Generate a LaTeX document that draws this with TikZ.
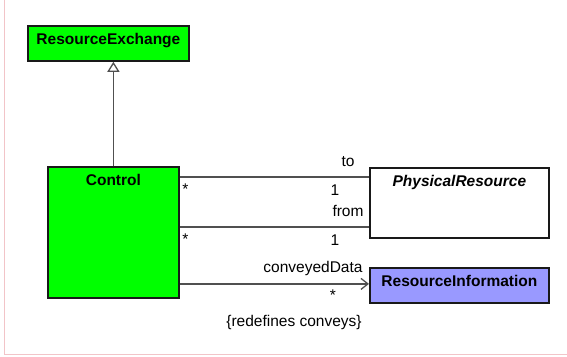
\documentclass[tikz,border=0pt]{standalone}
\usepackage{fontspec}
\setmainfont{Liberation Sans}
\usetikzlibrary{arrows.meta}

\definecolor{verdeclase}{RGB}{0,255,0}
\definecolor{lilaclase}{RGB}{153,153,255}
\definecolor{borde}{RGB}{25,25,25}
\definecolor{linea}{RGB}{80,80,80}
\definecolor{marco}{RGB}{242,196,200}

\begin{document}
\begin{tikzpicture}[x=1pt, y=-1pt,
    nombre/.style={anchor=base, inner sep=0pt, font=\fontsize{15.5}{18}\selectfont\bfseries},
    clase/.style={draw=borde, line width=1.8pt, anchor=north west, inner sep=0pt,
        label={[nombre, yshift=-19pt]north:#1}},
    asoc/.style={draw=linea, line width=1.3pt},
    etq/.style={anchor=base, inner sep=0pt, font=\fontsize{15.5}{18}\selectfont}]

    % Marco
    \useasboundingbox (0,0) rectangle (567,356);
    \draw[marco, line width=1pt] (4.5,0) -- (4.5,354) -- (567,354);

    % Clases
    \node[clase={ResourceExchange}, fill=verdeclase, minimum width=161pt, minimum height=35pt] (exch) at (27,25) {};
    \node[clase={Control}, fill=verdeclase, minimum width=131pt, minimum height=131pt] (ctrl) at (47,166) {};
    \node[clase={\itshape PhysicalResource}, fill=white, minimum width=179pt, minimum height=70pt] (phys) at (369,167) {};
    \node[clase={ResourceInformation}, fill=lilaclase, minimum width=179pt, minimum height=35pt] (info) at (369,267) {};

    % Generalizacion
    \draw[asoc, -{Triangle[open, length=10pt, width=12pt]}] (ctrl.north) -- (ctrl.north |- exch.south);

    % Asociaciones
    \draw[asoc] ([yshift=-11pt]ctrl.north east) -- ([yshift=-11pt]ctrl.north east -| phys.west);
    \draw[asoc] ([yshift=-61pt]ctrl.north east) -- ([yshift=-61pt]ctrl.north east -| phys.west);
    \draw[asoc, -{Straight Barb[length=7pt, width=11pt]}] ([yshift=1.5pt]ctrl.east |- info.west) -- ([yshift=1.5pt]info.west);

    % Roles y multiplicidades
    \node[etq] (to) at (348,166) {to};
    \node[etq] (uno1) at (335,195) {1};
    \node[etq] (from) at (348,216.7) {from};
    \node[etq] (uno2) at (335,245) {1};
    \node[etq] (conv) at (313,272.7) {conveyedData};
    \node[etq] (mult) at (333,300) {*};
    \node[etq] (redef) at (294,326) {\{redefines conveys\}};
    \node[etq] (ast1) at (185.5,194.5) {*};
    \node[etq] (ast2) at (185.5,244.5) {*};
\end{tikzpicture}
\end{document}
